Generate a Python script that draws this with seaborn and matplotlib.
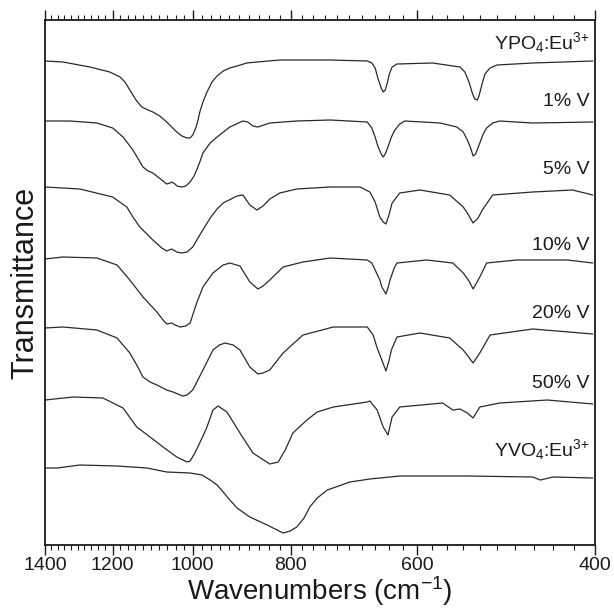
import numpy as np
import pandas as pd
import matplotlib
matplotlib.use("Agg")
import matplotlib.pyplot as plt
import matplotlib.transforms as mtransforms
from matplotlib.ticker import FixedLocator, NullFormatter, FuncFormatter
import seaborn as sns

# ---------------- data ----------------
# wavenumbers (cm-1) and stacked transmittance values (arbitrary units)
wn_ypo4 = [1400, 1344, 1264, 1208, 1180, 1167, 1154, 1138, 1123, 1107, 1095, 1078, 1061, 1049,
           1037, 1025, 1013, 1006, 1000, 993, 988, 984, 977, 968, 957, 946, 933, 919, 904,
           884, 864, 820, 731, 672, 665, 660, 656, 651, 648, 645, 642, 639, 635, 628, 579,
           544, 538, 533, 529, 526, 523, 521, 517, 514, 508, 500, 461, 402]
t_ypo4 = [499, 498, 493, 488, 483, 478, 470, 460, 453, 450, 448, 444, 438, 433,
          428, 424, 422, 422, 425, 432, 440, 448, 458, 468, 478, 484, 489, 492, 494,
          497, 498, 500, 500, 499, 497, 492, 482, 472, 468, 470, 477, 486, 493, 496, 497,
          493, 488, 478, 467, 461, 460, 464, 477, 486, 492, 495, 497, 499]

wn_v1 = [1400, 1323, 1244, 1200, 1172, 1146, 1120, 1107, 1095, 1073, 1061, 1053, 1049, 1041,
         1037, 1025, 1016, 1006, 997, 991, 984, 977, 961, 946, 919, 892, 882, 872, 862,
         839, 789, 731, 672, 665, 660, 656, 651, 648, 645, 641, 636, 631, 624, 617, 569,
         548, 540, 535, 531, 528, 525, 520, 516, 512, 505, 497, 461, 402]
t_v1 = [439, 439, 437, 432, 423, 410, 393, 389, 387, 380, 376, 377, 378, 376,
        374, 373, 374, 378, 384, 390, 398, 407, 417, 423, 433, 439, 438, 434, 433,
        437, 439, 440, 438, 432, 423, 414, 406, 403, 406, 413, 423, 430, 436, 439, 437,
        433, 428, 420, 412, 404, 406, 417, 426, 432, 437, 439, 437, 438]

wn_v5 = [1400, 1293, 1200, 1162, 1146, 1128, 1110, 1095, 1073, 1061, 1049, 1037, 1025, 1013,
         1000, 984, 961, 946, 933, 904, 892, 878, 864, 852, 839, 820, 789, 731, 683, 668,
         660, 653, 648, 644, 640, 635, 624, 596, 557, 540, 535, 528, 522, 517, 505, 461,
         421, 402]
t_v5 = [373, 371, 363, 353, 343, 333, 326, 320, 312, 309, 311, 308, 307, 308,
        313, 325, 342, 351, 357, 364, 365, 355, 350, 354, 361, 367, 371, 373, 373, 368,
        358, 343, 338, 336, 344, 357, 367, 370, 365, 353, 347, 337, 342, 350, 365, 368,
        370, 365]

wn_v10 = [1400, 1344, 1244, 1188, 1154, 1120, 1085, 1070, 1061, 1049, 1041, 1029, 1016, 1006,
          991, 977, 955, 933, 919, 898, 878, 862, 852, 839, 814, 778, 731, 672, 665, 660,
          653, 650, 644, 641, 638, 632, 628, 587, 553, 540, 533, 528, 520, 512, 478, 426,
          402]
t_v10 = [301, 303, 302, 295, 280, 263, 248, 240, 236, 237, 235, 233, 234, 237,
         257, 273, 287, 295, 297, 294, 278, 271, 274, 280, 293, 298, 302, 300, 297, 290,
         280, 273, 266, 272, 280, 292, 297, 300, 297, 287, 279, 271, 283, 297, 300, 300,
         297]

wn_v20 = [1400, 1344, 1244, 1188, 1154, 1136, 1120, 1102, 1085, 1061, 1046, 1023, 1013, 1000,
          977, 955, 941, 929, 912, 898, 878, 862, 852, 839, 814, 778, 726, 672, 663, 657,
          650, 644, 640, 636, 628, 596, 557, 540, 528, 520, 508, 461, 402]
t_v20 = [232, 233, 230, 222, 207, 195, 183, 178, 175, 170, 168, 164, 165, 170,
         190, 210, 215, 217, 215, 210, 193, 186, 187, 190, 207, 225, 233, 233, 225, 212,
         200, 189, 198, 210, 223, 227, 222, 210, 197, 207, 225, 231, 226]

wn_v50 = [1400, 1313, 1227, 1172, 1136, 1102, 1070, 1037, 1013, 1006, 995, 979, 968, 955,
          944, 925, 898, 872, 839, 823, 810, 796, 771, 753, 726, 672, 668, 657, 648, 641,
          635, 624, 566, 553, 544, 535, 528, 520, 497, 446, 402]
t_v50 = [160, 163, 162, 152, 133, 123, 113, 103, 98, 99, 107, 122, 133, 150,
         154, 148, 127, 107, 96, 98, 110, 127, 140, 148, 153, 158, 159, 150, 133, 125,
         143, 153, 157, 150, 151, 147, 142, 153, 157, 160, 156]

wn_yvo4 = [1400, 1362, 1293, 1188, 1110, 1061, 1006, 979, 961, 946, 933, 919, 904, 878,
           844, 814, 801, 789, 776, 766, 753, 736, 699, 668, 624, 535, 461, 453, 440, 402]
t_yvo4 = [92, 92, 95, 94, 92, 88, 87, 85, 80, 75, 68, 60, 52, 43,
          35, 27, 29, 33, 42, 53, 62, 70, 78, 81, 84, 84, 83, 80, 83, 82]

sample_labels = [r"YPO$_4$:Eu$^{3{+}}$", "1% V", "5% V", "10% V", "20% V", "50% V",
                 r"YVO$_4$:Eu$^{3{+}}$"]
label_levels = [517, 458, 390, 315, 247, 177, 110]

major_ticks = [1400, 1200, 1000, 800, 600, 400]
minor_ticks = [w for w in range(400, 1401, 20) if w not in major_ticks]

# ---------------- plotting ----------------
sns.set_theme(style="white")
plt.rcParams["font.family"] = ["Liberation Sans", "DejaVu Sans"]
plt.rcParams["mathtext.default"] = "regular"

fig = plt.figure(figsize=(6.14, 6.08), dpi=100)
ax = fig.add_axes([45 / 614, 1 - 545 / 608, 550 / 614, 525 / 608])

series = [(wn_ypo4, t_ypo4), (wn_v1, t_v1), (wn_v5, t_v5), (wn_v10, t_v10),
          (wn_v20, t_v20), (wn_v50, t_v50), (wn_yvo4, t_yvo4)]
line_color = "#2a2a2a"
for lab, (wn, tv) in zip(sample_labels, series):
    df = pd.DataFrame({"wn": wn, "T": tv})
    sns.lineplot(data=df, x="wn", y="T", ax=ax, color=line_color, linewidth=0.9,
                 estimator=None, sort=False)

ax.set_xscale("log")
ax.set_xlim(1400, 400)
ax.set_ylim(15, 540)

ax.xaxis.set_major_locator(FixedLocator(major_ticks))
ax.xaxis.set_major_formatter(FuncFormatter(lambda v, p: f"{v:.0f}"))
ax.xaxis.set_minor_locator(FixedLocator(minor_ticks))
ax.xaxis.set_minor_formatter(NullFormatter())
ax.set_yticks([])

ax.tick_params(axis="x", which="both", direction="out", top=True, bottom=True,
               labeltop=False, labelbottom=True, colors="#1a1a1a")
ax.tick_params(axis="x", which="major", length=7, width=1.0, labelsize=14, pad=2)
ax.tick_params(axis="x", which="minor", length=3.5, width=0.8)

for s in ax.spines.values():
    s.set_visible(True)
    s.set_linewidth(1.3)
    s.set_color("#1a1a1a")

ax.set_xlabel(r"Wavenumbers (cm$^{-1}$)", fontsize=20, color="#1a1a1a", labelpad=0)
ax.set_ylabel("Transmittance", fontsize=22, color="#1a1a1a", labelpad=3)

trans = mtransforms.blended_transform_factory(ax.transAxes, ax.transData)
for lab, lev in zip(sample_labels, label_levels):
    ax.text(0.99, lev, lab, transform=trans, ha="right", va="center", fontsize=14,
            color="#1a1a1a")

fig.savefig("out.png", dpi=100)
